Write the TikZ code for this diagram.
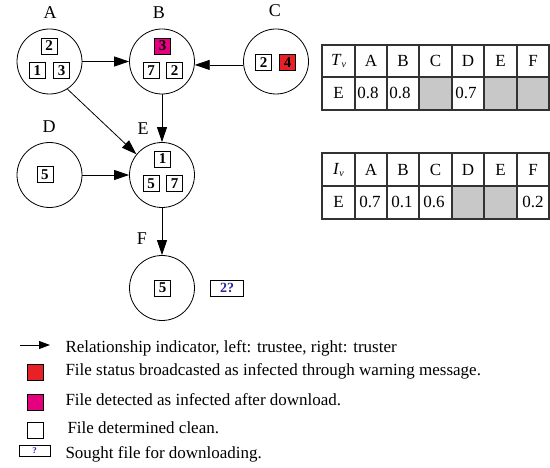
\documentclass[tikz,border=0pt]{standalone}
\usepackage{fontspec}
\setmainfont{Liberation Serif}
\usetikzlibrary{arrows.meta}
\definecolor{infred}{RGB}{232,32,40}
\definecolor{infmag}{RGB}{228,0,126}
\definecolor{cellgray}{RGB}{200,200,200}
\definecolor{qblue}{RGB}{40,40,150}
\definecolor{rule}{RGB}{50,50,50}
\begin{document}
\begin{tikzpicture}[x=1pt,y=-1pt,
  peer/.style={circle,draw,line width=0.8pt,minimum size=65pt,inner sep=0pt},
  peername/.style={anchor=base,font=\fontsize{18}{18}\selectfont},
  file/.style={draw,line width=0.7pt,minimum width=16pt,minimum height=16pt,inner sep=0pt,
    font=\fontsize{15}{15}\selectfont\bfseries},
  sought/.style={draw,line width=0.7pt,inner sep=0pt,text=qblue,font=\bfseries},
  link/.style={line width=0.8pt,-{Triangle[length=15pt,width=10pt]}},
  celltext/.style={font=\fontsize{17}{17}\selectfont},
  legtext/.style={anchor=base west,font=\fontsize{17}{17}\selectfont},
  grid/.style={draw=rule,line width=1.1pt}
]
\useasboundingbox (0,0) rectangle (550,468);

% peers
\node[peer] (A) at (49.5,61.5) {};
\node[peer] (B) at (162,61.5) {};
\node[peer] (C) at (276,61.5) {};
\node[peer] (D) at (49.5,175) {};
\node[peer] (E) at (162,175) {};
\node[peer] (F) at (162,288) {};

\node[peername] (lA) at (50,19) {A};
\node[peername] (lB) at (159,19) {B};
\node[peername] (lC) at (275,17) {C};
\node[peername] (lD) at (49,133) {D};
\node[peername] (lE) at (143,135) {E};
\node[peername] (lF) at (142,245) {F};

% files held by each peer
\node[file] (a2) at (49,46) {2};
\node[file] (a1) at (37.5,70.5) {1};
\node[file] (a3) at (61.5,70.5) {3};
\node[file,fill=infmag] (b3) at (162.5,46) {3};
\node[file] (b7) at (151,70.5) {7};
\node[file] (b2) at (174.5,70.5) {2};
\node[file] (c2) at (263.5,62.5) {2};
\node[file,fill=infred] (c4) at (287.5,62.5) {4};
\node[file] (d5) at (45,174.5) {5};
\node[file] (e1) at (162.5,159) {1};
\node[file] (e5) at (151,183.5) {5};
\node[file] (e7) at (174.5,183.5) {7};
\node[file] (f5) at (162.5,288) {5};
\node[sought,minimum width=33pt,minimum height=16pt,font=\fontsize{14}{14}\selectfont\bfseries] (want) at (227,288) {2?};

% trust relations
\draw[link] (A) -- (B);
\draw[link] (C.186) -- (B.354);
\draw[link] (B) -- (E);
\draw[link] (A.-57) -- (E.141);
\draw[link] (D) -- (E);
\draw[link] (E) -- (F);

% trust table
\fill[cellgray] (419,77) rectangle (452,110);
\fill[cellgray] (484,77) rectangle (549,110);
\draw[grid] (322,45) rectangle (549,110);
\draw[grid] (322,77) -- (549,77);
\foreach \x in {355,387,419,452,484,517} \draw[grid] (\x,45) -- (\x,110);
\node[celltext] (tv) at (338.5,61) {\textit{T}\raisebox{-2pt}{\fontsize{10}{10}\selectfont\textit{v}}};
\foreach \c/\x in {A/371,B/403,C/435.5,D/468,E/500.5,F/533}
  \node[celltext] (th\c) at (\x,61) {\c};
\node[celltext] (tr) at (338.5,93) {E};
\node[celltext] (tvA) at (368,93) {0.8};
\node[celltext] (tvB) at (400,93) {0.8};
\node[celltext] (tvD) at (466,93) {0.7};

% infection table
\fill[cellgray] (452,186) rectangle (517,219);
\draw[grid] (322,153) rectangle (549,219);
\draw[grid] (322,186) -- (549,186);
\foreach \x in {355,387,419,452,484,517} \draw[grid] (\x,153) -- (\x,219);
\node[celltext] (iv) at (338.5,170) {\textit{I}\raisebox{-2pt}{\fontsize{10}{10}\selectfont\textit{v}}};
\foreach \c/\x in {A/371,B/403,C/435.5,D/468,E/500.5,F/533}
  \node[celltext] (ih\c) at (\x,170) {\c};
\node[celltext] (ir) at (338.5,202) {E};
\node[celltext] (ivA) at (370,202) {0.7};
\node[celltext] (ivB) at (402,202) {0.1};
\node[celltext] (ivC) at (434,202) {0.6};
\node[celltext] (ivF) at (533,202) {0.2};

% legend
\coordinate (ls) at (20,345);
\coordinate (le) at (50,345);
\draw[line width=0.8pt,-{Triangle[length=11pt,width=8pt]}] (ls) -- (le);
\node[legtext] (t1) at (62,353) {Relationship indicator, left: trustee, right: truster};
\node[draw,line width=0.7pt,fill=infred,minimum width=16pt,minimum height=16pt,inner sep=0pt] (k1) at (35,372.5) {};
\node[legtext] (t2) at (62,376) {File status broadcasted as infected through warning message.};
\node[draw,line width=0.7pt,fill=infmag,minimum width=16pt,minimum height=16pt,inner sep=0pt] (k2) at (35,402) {};
\node[legtext] (t3) at (62,406) {File detected as infected after download.};
\node[draw,line width=0.7pt,minimum width=16pt,minimum height=16pt,inner sep=0pt] (k3) at (35,430) {};
\node[legtext] (t4) at (64,434) {File determined clean.};
\node[sought,minimum width=31pt,minimum height=11pt,font=\fontsize{9}{9}\selectfont\bfseries] (k4) at (34.5,450.5) {?};
\node[legtext] (t5) at (62,459) {Sought file for downloading.};
\end{tikzpicture}
\end{document}
